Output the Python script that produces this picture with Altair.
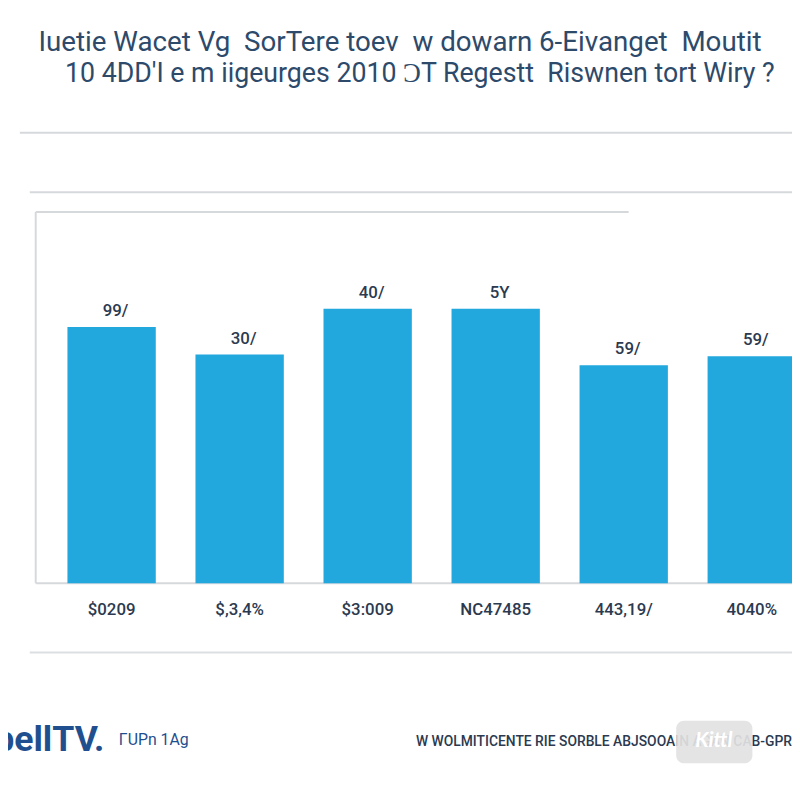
import altair as alt
import pandas as pd

# ---- data ----
categories = ["A", "B", "C", "D", "E", "F"]
values = [69, 61.6, 73.9, 73.9, 58.7, 61.1]
bar_labels = ["99/", "30/", "40/", "5Y", "59/", "59/"]
x_labels = ["$0209", "$,3,4%", "$3:009", "NC47485", "443,19/", "4040%"]
NB = "\u00a0"
title_lines = [
    f"Iuetie Wacet Vg{NB*2}SorTere toev{NB*2}w dowarn 6-Eivanget{NB*2}Moutit",
    f"10 4DD'I e m iigeurges 2010 \u0186T Regestt{NB*2}Riswnen tort Wiry ?",
]
logo_text = "bellTV."
logo_sub = "\u0393UPn 1Ag"
footer_text = "W WOLMITICENTE RIE SORBLE ABJSOOAIN AGAN CAB-GPR"
watermark = "Kittl"

df = pd.DataFrame({"cat": categories, "value": values,
                   "label": bar_labels, "xlabel": x_labels})
one = pd.DataFrame({"k": [0]})

W, H = 792, 792
NAVY = "#2d4a6b"
LABEL = "#2b3a50"
GRID = "#d6d9dc"
BAR = "#22a8dd"

xs = alt.X("cat:N", sort=categories, axis=None,
           scale=alt.Scale(range=[40, 816], paddingInner=0.31, paddingOuter=0.155))
ys = alt.Y("value:Q", axis=None, scale=alt.Scale(domain=[0, 100], range=[577, 202]))

def rule(x1, x2, y1, y2=None, color=GRID, w=2):
    enc = dict(x=alt.value(x1), x2=alt.value(x2), y=alt.value(y1))
    if y2 is not None:
        enc["y2"] = alt.value(y2)
    return alt.Chart(one).mark_rule(color=color, strokeWidth=w).encode(**enc)

def text(t, x, y, size, color, align="center", weight="normal", font="Roboto", style="normal", opacity=1):
    return alt.Chart(one).mark_text(
        text=t, fontSize=size, color=color, align=align, baseline="middle",
        fontWeight=weight, font=font, fontStyle=style, opacity=opacity
    ).encode(x=alt.value(x), y=alt.value(y))

layers = [
    text(title_lines[0], 396, 31, 28, NAVY),
    text(title_lines[1], 416, 63, 27, NAVY),
    rule(12, 792, 122),
    rule(22, 792, 182),
    rule(28, 627, 202),
    rule(28, 28, 202, 577),
    rule(28, 792, 577),
    alt.Chart(df).mark_bar(color=BAR).encode(x=xs, y=ys),
    alt.Chart(df).mark_text(fontSize=17, color=LABEL, dy=-16, dx=4, baseline="middle",
                            font="Roboto", fontWeight=500).encode(x=xs, y=ys, text="label:N"),
    alt.Chart(df).mark_text(fontSize=17, color=LABEL, baseline="middle",
                            font="Roboto", fontWeight=500).encode(x=xs, y=alt.value(604), text="xlabel:N"),
    rule(22, 792, 647, color="#dcdfe2"),
    text(logo_text, -14, 736, 36, "#1f4f8f", align="left", weight="bold"),
    text(logo_sub, 112, 735, 16, "#1f4f8f", align="left"),
    text(footer_text, 792, 737, 14, LABEL, align="right", weight=500),
    alt.Chart(one).mark_rect(color="#e2e2e2", cornerRadius=8, opacity=0.92).encode(
        x=alt.value(675), x2=alt.value(752), y=alt.value(716), y2=alt.value(759)),
    text(watermark, 713, 737, 21, "white", weight="bold", style="italic", font="Lato"),
]

chart = alt.layer(*layers).properties(
    width=W, height=H, autosize=alt.AutoSizeParams(type="none"), padding=0,
    background="white"
).configure_view(stroke=None)

chart.save("out.html", embed_options={"renderer": "svg", "actions": False})
